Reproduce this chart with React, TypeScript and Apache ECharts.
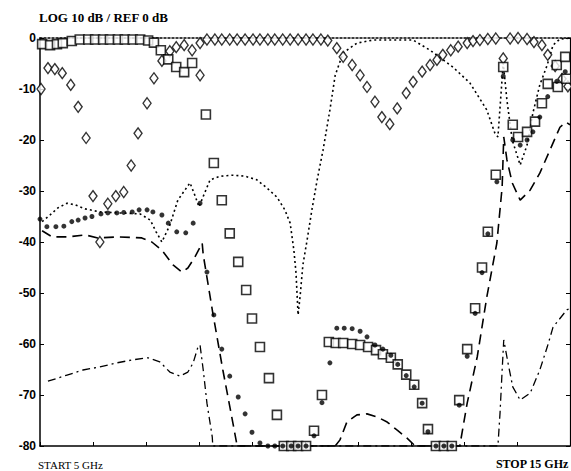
import React, { useEffect, useRef } from "react";
import * as echarts from "echarts";

// Frequency in GHz, level in dB
const yTicks = [0, -10, -20, -30, -40, -50, -60, -70, -80];
const titleText = "LOG 10 dB / REF 0 dB";
const startText = "START 5 GHz";
const stopText = "STOP 15 GHz";

const diamonds: number[][] = [
  [5.02, -10], [5.15, -5.9], [5.28, -6.1], [5.42, -6.9], [5.58, -9.2], [5.72, -13.5], [5.87, -19.6],
  [6.0, -31], [6.13, -40], [6.28, -32.5], [6.43, -31], [6.58, -30.2], [6.72, -25], [6.85, -18.7],
  [7.02, -12.8], [7.15, -7.9], [7.3, -4.5], [7.45, -2.6], [7.57, -1.8], [7.72, -1.4], [7.87, -2.4],
  [8.02, -7.3], [8.02, -1], [8.15, -0.3], [8.3, -0.3], [8.43, -0.3], [8.58, -0.3], [8.72, -0.3],
  [8.87, -0.3], [9.02, -0.3], [9.15, -0.3], [9.3, -0.3], [9.43, -0.3], [9.58, -0.3], [9.72, -0.3],
  [9.87, -0.3], [10.02, -0.3], [10.15, -0.3], [10.3, -0.3], [10.43, -0.5], [10.6, -2], [10.72, -3.7],
  [10.89, -5.3], [11.04, -7.3], [11.17, -9.6], [11.32, -12.5], [11.45, -15.5], [11.6, -16.9],
  [11.74, -13.8], [11.91, -10.8], [12.04, -8.6], [12.21, -6.6], [12.36, -5.3], [12.49, -4.3],
  [12.6, -3.3], [12.75, -2.4], [12.89, -1.7], [13.06, -1.0], [13.17, -0.6], [13.3, -0.4],
  [13.45, -0.2], [13.6, -0.1], [13.74, -4], [13.87, -0.1], [14.02, 0], [14.19, -0.2], [14.32, -0.8],
  [14.47, -1.4], [14.58, -3.3], [14.72, -5.5], [14.85, -8], [14.96, -9.5],
];

const squares: number[][] = [
  [5.04, -1.2], [5.19, -1.4], [5.32, -1.2], [5.43, -1.0], [5.6, -0.6], [5.75, -0.3], [5.91, -0.3],
  [6.04, -0.3], [6.19, -0.3], [6.32, -0.3], [6.47, -0.3], [6.6, -0.3], [6.75, -0.3], [6.89, -0.3],
  [7.04, -0.5], [7.15, -0.9], [7.28, -2.4], [7.42, -4.2], [7.57, -5.7], [7.72, -6.7], [7.87, -4.9],
  [8.13, -15], [8.28, -24.5], [8.43, -31.8], [8.58, -38.3], [8.74, -43.9], [8.89, -49.4], [9.0, -55],
  [9.15, -60.6], [9.32, -66.7], [9.47, -73.9], [9.6, -80], [9.74, -80], [9.87, -80], [10.02, -80],
  [10.17, -77], [10.32, -70], [10.45, -59.6], [10.58, -59.8], [10.72, -59.8], [10.89, -60],
  [11.04, -60.2], [11.19, -60.6], [11.34, -61.2], [11.47, -62], [11.62, -62.7], [11.75, -64],
  [11.91, -66], [12.06, -68], [12.21, -71.6], [12.32, -76.7], [12.47, -80], [12.62, -80], [12.77, -80],
  [12.91, -71], [13.06, -61], [13.21, -53], [13.34, -45], [13.45, -38], [13.6, -26.8], [13.74, -5.7],
  [13.92, -17], [14.02, -19.4], [14.19, -18.4], [14.34, -16.4], [14.47, -12.8], [14.58, -9],
  [14.75, -5.3], [14.77, -9.6], [14.91, -3.7], [14.93, -8],
];

const dots: number[][] = [
  [5.0, -35.5], [5.13, -37], [5.3, -37], [5.45, -36.9], [5.6, -36], [5.72, -35.7], [5.85, -35.3],
  [5.98, -35], [6.15, -34.5], [6.28, -34.3], [6.45, -34.3], [6.58, -34.2], [6.74, -34.1], [6.87, -33.7],
  [7.02, -33.7], [7.13, -34.1], [7.3, -34.7], [7.42, -36.3], [7.58, -38], [7.75, -38.2], [7.89, -36.3],
  [8.02, -32.4], [8.15, -45.9], [8.28, -54.3], [8.43, -61], [8.58, -66.3], [8.74, -70.4], [8.87, -73.7],
  [9.0, -77.3], [9.15, -79.4], [9.3, -80], [9.43, -80], [9.58, -80], [9.74, -80], [9.87, -80],
  [10.02, -80], [10.17, -78], [10.32, -71.5], [10.47, -63.7], [10.6, -56.9], [10.74, -56.9],
  [10.89, -57], [11.04, -57.5], [11.17, -58.6], [11.32, -60.2], [11.47, -61], [11.62, -62.2],
  [11.75, -64], [11.91, -66.2], [12.06, -68.4], [12.21, -71.6], [12.32, -77.2], [12.47, -80],
  [12.62, -80], [12.77, -80], [12.91, -72], [13.06, -62.4], [13.21, -54], [13.34, -46], [13.45, -38.4],
  [13.62, -28.2], [13.74, -7.5], [13.92, -20], [14.06, -21], [14.19, -20], [14.3, -18.4],
  [14.43, -15.5], [14.58, -11.5], [14.75, -8.5], [14.91, -6.6],
];

const dottedSim: number[][] = [
  [5.04, -36], [5.19, -34.7], [5.34, -33.3], [5.51, -32.4], [5.66, -32.7], [5.85, -33.5], [6.13, -34.1],
  [6.51, -34.3], [6.89, -34.5], [7.08, -35.7], [7.19, -38], [7.3, -40], [7.45, -36.7], [7.6, -31.8],
  [7.83, -28.4], [7.92, -30.8], [8.0, -33.1], [8.09, -30.8], [8.21, -27.8], [8.4, -27.1], [8.64, -26.9],
  [8.87, -27.1], [9.09, -27.8], [9.28, -29.4], [9.47, -31.2], [9.62, -33.7], [9.72, -36.3],
  [9.79, -41.6], [9.83, -46], [9.87, -54.3], [9.91, -50.4], [9.96, -44.5], [10.04, -39.6],
  [10.13, -33.7], [10.23, -27.8], [10.34, -22], [10.47, -14.1], [10.57, -7.3], [10.72, -2.9],
  [10.98, -1], [11.28, -0.4], [12.04, -0.4], [12.36, -2.4], [12.79, -5.7], [13.11, -8.8],
  [13.43, -14.1], [13.58, -18.6], [13.64, -19.4], [13.74, -4.9], [13.81, -12.2], [13.91, -20],
  [14.06, -24.9], [14.19, -21], [14.3, -14.7], [14.43, -9.2], [14.57, -5.3], [14.68, -1.4],
  [14.81, -0.2], [15, 0],
];

const dashedSim: number[][] = [
  [5.04, -37.8], [5.23, -39], [5.53, -39], [5.85, -38.6], [6.09, -39.2], [6.47, -39], [6.92, -39.2],
  [7.11, -40], [7.3, -41.6], [7.51, -44.5], [7.68, -45.9], [7.79, -45.1], [7.92, -43], [8.06, -40.2],
  [8.08, -42.5], [8.26, -53.9], [8.45, -65.1], [8.64, -75.5], [8.72, -80], [10.57, -80], [10.66, -78.8],
  [10.79, -75.3], [10.98, -73.9], [11.17, -73.7], [11.36, -74.3], [11.55, -75.3], [11.74, -76.9],
  [11.92, -78.4], [12.08, -80], [12.92, -80], [13.06, -71.6], [13.25, -62.5], [13.43, -50.8],
  [13.62, -40.2], [13.72, -29.2], [13.75, -19.4], [13.81, -23.9], [13.91, -28.4], [14.06, -31.8],
  [14.25, -29.8], [14.43, -26.5], [14.62, -22], [14.81, -17.5], [14.92, -16.5], [15, -17],
];

const dashDotSim: number[][] = [
  [5.15, -67.3], [5.51, -66.1], [5.81, -65.1], [6.13, -64.5], [6.45, -63.7], [6.75, -63.1],
  [7.04, -62.7], [7.26, -63.5], [7.45, -65.5], [7.64, -66.3], [7.79, -65.5], [7.89, -63.7],
  [7.98, -60.6], [8.02, -60.2], [8.08, -65.1], [8.15, -71.6], [8.25, -78.2], [8.26, -80],
  [13.64, -80], [13.68, -73.5], [13.72, -65.1], [13.75, -59.2], [13.83, -63.7], [13.92, -68.4],
  [14.06, -71], [14.25, -69.6], [14.43, -65.1], [14.57, -60.6], [14.68, -56.7], [14.94, -53.3],
  [15, -53],
];

export default function App() {
  const ref = useRef<HTMLDivElement>(null);
  useEffect(() => {
    if (!ref.current) return;
    const chart = echarts.init(ref.current, undefined, { renderer: "svg" });
    const black = "#000";
    const lineBase = (data: number[][], type: any, width: number) => ({
      type: "line",
      data,
      showSymbol: false,
      symbol: "none",
      smooth: false,
      z: 2,
      lineStyle: { color: black, width, type },
      silent: true,
    });
    chart.setOption({
      animation: false,
      backgroundColor: "#fff",
      grid: { left: 40, top: 38, right: 1, bottom: 25, containLabel: false },
      xAxis: [
        {
          type: "value", min: 5, max: 15, interval: 1, position: "bottom",
          axisLine: { show: true, onZero: false, lineStyle: { color: black, width: 1.5 } },
          axisTick: { show: true, inside: true, length: 4, lineStyle: { color: black, width: 1 } },
          axisLabel: { show: false },
          splitLine: { show: false },
        },
        {
          type: "value", min: 5, max: 15, interval: 1, position: "top",
          axisLine: { show: true, onZero: false, lineStyle: { color: black, width: 1.5, type: [2, 2] } },
          axisTick: { show: false },
          axisLabel: { show: false },
          splitLine: { show: false },
        },
      ],
      yAxis: [
        {
          type: "value", min: -80, max: 0, interval: 10, position: "left",
          axisLine: { show: true, onZero: false, lineStyle: { color: black, width: 1.5 } },
          axisTick: { show: true, inside: true, length: 4, lineStyle: { color: black } },
          axisLabel: {
            show: true, margin: 4, color: black, fontFamily: "Liberation Sans", fontWeight: "bold", fontSize: 12,
            formatter: (v: number) => (yTicks.includes(v) ? String(v) : ""),
          },
          splitLine: { show: false },
        },
        {
          type: "value", min: -80, max: 0, interval: 10, position: "right",
          axisLine: { show: true, onZero: false, lineStyle: { color: black, width: 1.2 } },
          axisTick: { show: true, inside: true, length: 4, lineStyle: { color: black } },
          axisLabel: { show: false },
          splitLine: { show: false },
        },
      ],
      series: [
        lineBase(dottedSim, [2, 3], 1.6),
        lineBase(dashedSim, [10, 6], 1.6),
        lineBase(dashDotSim, [8, 4, 2, 4], 1.3),
        {
          type: "scatter", data: diamonds, symbol: "diamond", symbolSize: [8, 11], z: 3,
          itemStyle: { color: "#fff", borderColor: black, borderWidth: 1.4 },
        },
        {
          type: "scatter", data: squares, symbol: "rect", symbolSize: 9, z: 4,
          itemStyle: { color: "#fff", borderColor: black, borderWidth: 1.6 },
        },
        {
          type: "scatter", data: dots, symbol: "circle", symbolSize: 5, z: 5,
          itemStyle: { color: black },
        },
      ],
      graphic: [
        {
          type: "text", left: 39, top: 11,
          style: { text: titleText, fill: black, font: 'bold 13px "Liberation Serif"' },
        },
        {
          type: "text", left: 38, top: 459,
          style: { text: startText, fill: black, font: '11px "Liberation Serif"' },
        },
        {
          type: "text", right: 2, top: 458,
          style: { text: stopText, fill: black, font: 'bold 12px "Liberation Serif"' },
        },
      ],
    });
    return () => chart.dispose();
  }, []);
  return (
    <div
      ref={ref}
      style={{ position: "fixed", left: 0, top: 0, width: 571, height: 471, background: "#fff" }}
    />
  );
}
